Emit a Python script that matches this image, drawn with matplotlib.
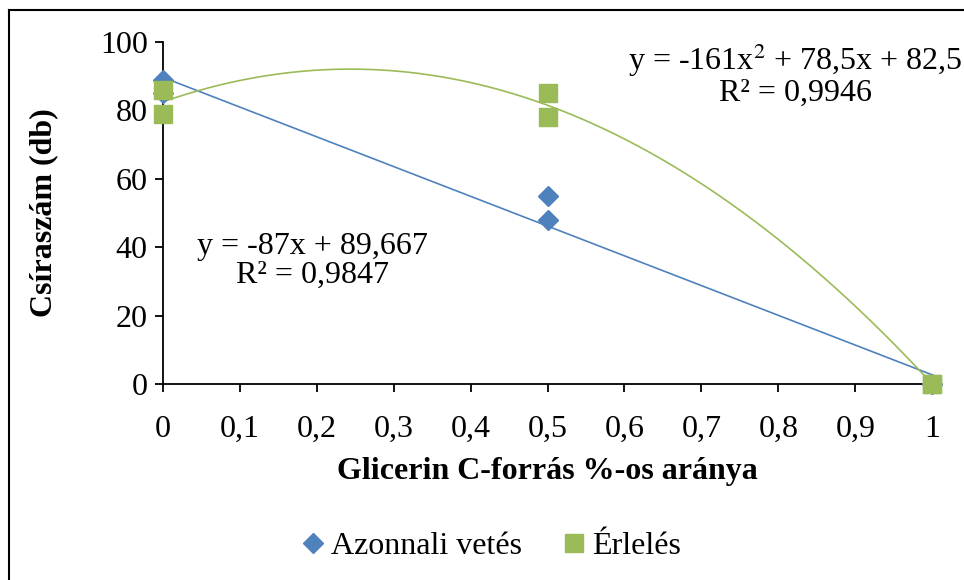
import numpy as np
import matplotlib.pyplot as plt
from matplotlib.lines import Line2D

plt.rcParams['font.family'] = ['Liberation Serif', 'DejaVu Serif']

# measured values (two repeats per level)
x_azonnali = [0, 0, 0.5, 0.5, 1, 1]
y_azonnali = [89, 85, 55, 48, 0, 0]
x_erleles = [0, 0, 0.5, 0.5, 1, 1]
y_erleles = [86, 79, 85, 78, 0, 0]

xticks = [0, 0.1, 0.2, 0.3, 0.4, 0.5, 0.6, 0.7, 0.8, 0.9, 1]
xtick_labels = ["0", "0,1", "0,2", "0,3", "0,4", "0,5", "0,6", "0,7", "0,8", "0,9", "1"]
yticks = [0, 20, 40, 60, 80, 100]

blue = "#4F81BD"
green = "#9BBB59"

fig = plt.figure(figsize=(9.64, 5.8), dpi=100)
ax = fig.add_axes([0.169, 0.338, 0.798, 0.5896])

# trendlines
lin = np.polyfit(x_azonnali, y_azonnali, 1)
quad = np.polyfit(x_erleles, y_erleles, 2)
xs = np.linspace(0, 1, 200)
ax.plot(xs, np.polyval(lin, xs), color=blue, lw=1.2, zorder=2)
ax.plot(xs, np.polyval(quad, xs), color=green, lw=1.2, zorder=2)

ax.plot(x_azonnali, y_azonnali, 'D', color=blue, ms=10.5, ls='none',
        clip_on=False, zorder=3, label="Azonnali vetés")
ax.plot(x_erleles, y_erleles, 's', color=green, ms=13, ls='none',
        clip_on=False, zorder=4, label="Érlelés")

ax.set_xlim(0, 1)
ax.set_ylim(0, 100)
ax.set_xticks(xticks)
ax.set_xticklabels(xtick_labels)
ax.set_yticks(yticks)
ax.tick_params(labelsize=23, direction='out', length=6, width=1.3, pad=5)
ax.tick_params(axis='x', pad=16)
for side in ['top', 'right']:
    ax.spines[side].set_visible(False)
for side in ['left', 'bottom']:
    ax.spines[side].set_linewidth(1.3)

ax.set_xlabel("Glicerin C-forrás %-os aránya", fontsize=23, fontweight='bold', labelpad=10)
ax.set_ylabel("Csíraszám (db)", fontsize=23, fontweight='bold', labelpad=30)

ax.text(0.195, 36, "y = -87x + 89,667\nR² = 0,9847", fontsize=23,
        ha='center', va='center', linespacing=1.0)
fig.text(0.825, 0.872, "y = -161x$^2$ + 78,5x + 82,5\nR² = 0,9946", fontsize=23,
         ha='center', va='center', linespacing=1.0,
         math_fontfamily='stix')

fig.legend(loc='center', bbox_to_anchor=(0.508, 0.058), ncol=2, frameon=False,
           fontsize=23, handletextpad=0.1, columnspacing=1.2, handlelength=0.9)

# chart frame (only left and top edges fall inside the picture)
fig.add_artist(Line2D([9 / 964, 9 / 964], [0, 1 - 10 / 580], color='black', lw=1.5))
fig.add_artist(Line2D([9 / 964, 1], [1 - 10 / 580, 1 - 10 / 580], color='black', lw=1.5))

fig.savefig("out.png", dpi=100)
